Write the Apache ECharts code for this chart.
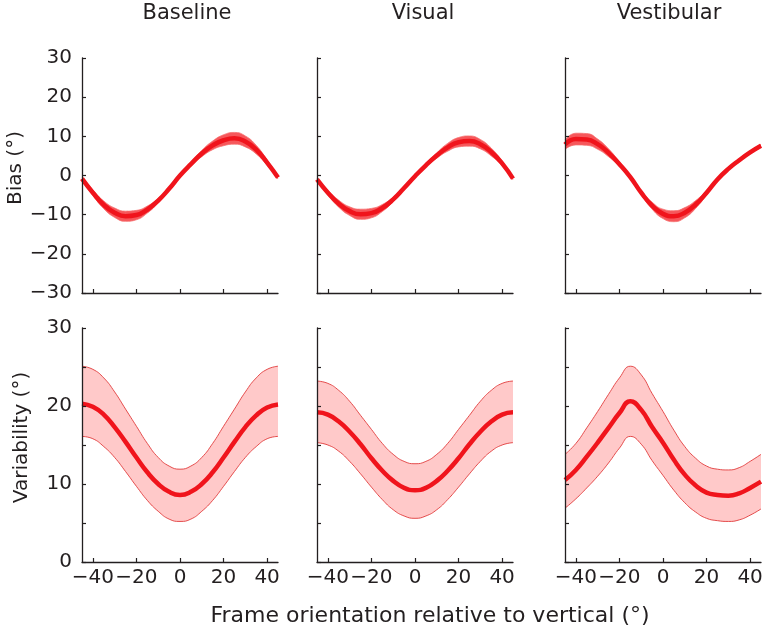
<!DOCTYPE html>
<html>
<head>
<meta charset="utf-8">
<script src="https://cdn.jsdelivr.net/npm/echarts@6/dist/echarts.min.js"></script>
<style>
  html, body { margin: 0; padding: 0; background: #ffffff; }
  #chart { width: 766px; height: 629px; }
</style>
</head>
<body>
<div id="chart"></div>
<script>
// ---- data ----
const panelTitles = ['Baseline', 'Visual', 'Vestibular'];
const xs = [-45, -40, -35, -30, -25, -20, -15, -10, -5, 0, 5, 10, 15, 20, 25, 30, 35, 40, 45];
const xTicks = [-40, -20, 0, 20, 40];
const biasTicks = [-30, -20, -10, 0, 10, 20, 30];
const varTicks = [0, 5, 10, 15, 20, 25, 30];
const varLabels = [0, 10, 20, 30];

// Bias (top row)
const baselineBiasMean = [-0.8, -4.4, -7.5, -9.5, -10.4, -10.1, -8.7, -6.4, -3.4, 0.0, 2.9, 5.6, 7.7, 9.0, 9.5, 8.7, 6.6, 3.3, -0.5];
const baselineBiasHi   = [-0.4, -3.7, -6.5, -8.3, -9.1, -8.9, -7.8, -5.8, -3.0, 0.3, 3.4, 6.4, 8.8, 10.4, 11.0, 10.1, 7.7, 4.0, -0.1];
const baselineBiasLo   = [-1.2, -5.1, -8.5, -10.7, -11.7, -11.3, -9.6, -7.0, -3.8, -0.3, 2.4, 4.8, 6.6, 7.6, 8.0, 7.3, 5.5, 2.6, -0.9];

const visualBiasMean = [-1.0, -4.4, -7.2, -9.1, -9.9, -9.6, -8.3, -6.1, -3.2, -0.2, 2.6, 5.1, 7.2, 8.5, 8.8, 8.0, 6.0, 3.1, -0.8];
const visualBiasHi   = [-0.7, -3.8, -6.3, -8.0, -8.6, -8.4, -7.4, -5.5, -2.8, 0.1, 3.0, 5.8, 8.2, 9.7, 10.1, 9.2, 7.0, 3.7, -0.5];
const visualBiasLo   = [-1.3, -5.0, -8.1, -10.2, -11.2, -10.8, -9.2, -6.7, -3.6, -0.5, 2.2, 4.4, 6.2, 7.3, 7.5, 6.8, 5.0, 2.5, -1.1];

const vestibularBiasMean = [7.9, 9.3, 9.2, 8.0, 5.8, 2.9, -0.4, -4.4, -7.7, -9.8, -10.4, -9.5, -7.4, -4.4, -1.0, 1.7, 3.9, 5.9, 7.6];
const vestibularBiasHi   = [9.1, 10.8, 10.7, 9.3, 6.8, 3.5, -0.1, -3.9, -6.8, -8.6, -9.0, -8.2, -6.4, -3.8, -0.7, 2.0, 4.3, 6.3, 8.0];
const vestibularBiasLo   = [6.7, 7.8, 7.7, 6.7, 4.8, 2.3, -0.7, -4.9, -8.6, -11.0, -11.8, -10.8, -8.4, -5.0, -1.3, 1.4, 3.5, 5.5, 7.2];

// Variability (bottom row)
const baselineVarMean = [20.3, 19.9, 18.9, 17.3, 15.4, 13.4, 11.5, 10.0, 9.0, 8.6, 9.0, 10.0, 11.5, 13.4, 15.4, 17.3, 18.8, 19.8, 20.2];
const baselineVarHi   = [25.1, 24.7, 23.6, 21.8, 19.6, 17.4, 15.2, 13.4, 12.3, 11.9, 12.3, 13.4, 15.2, 17.4, 19.6, 21.8, 23.6, 24.7, 25.1];
const baselineVarLo   = [16.1, 15.8, 14.8, 13.4, 11.6, 9.7, 7.9, 6.5, 5.5, 5.2, 5.5, 6.5, 7.9, 9.7, 11.6, 13.4, 14.8, 15.8, 16.1];

const visualVarMean = [19.2, 18.9, 18.0, 16.7, 15.1, 13.3, 11.7, 10.4, 9.5, 9.2, 9.5, 10.4, 11.7, 13.3, 15.1, 16.7, 18.0, 18.9, 19.2];
const visualVarHi   = [23.2, 22.9, 22.0, 20.6, 18.8, 17.0, 15.2, 13.8, 12.9, 12.6, 12.9, 13.8, 15.2, 17.0, 18.8, 20.6, 22.0, 22.9, 23.2];
const visualVarLo   = [15.3, 15.0, 14.2, 12.9, 11.3, 9.6, 8.0, 6.7, 5.9, 5.6, 5.9, 6.7, 8.0, 9.6, 11.3, 12.9, 14.2, 15.0, 15.3];

const vestibularVarMean = [10.5, 11.8, 13.5, 15.3, 17.2, 19.1, 20.6, 19.5, 17.3, 15.3, 13.1, 11.2, 9.8, 8.9, 8.6, 8.5, 8.8, 9.5, 10.3];
const vestibularVarHi   = [13.8, 15.2, 17.2, 19.3, 21.5, 23.6, 25.1, 24.0, 21.6, 19.3, 16.9, 14.8, 13.3, 12.3, 11.9, 11.8, 12.1, 12.9, 13.8];
const vestibularVarLo   = [6.9, 8.1, 9.5, 11.0, 12.7, 14.6, 16.1, 15.1, 13.0, 11.1, 9.2, 7.6, 6.4, 5.6, 5.3, 5.2, 5.4, 6.0, 6.8];

// ---- build chart ----
const FONT = 'DejaVu Sans';
const INK = '#231f20';
const gridLefts = [82, 317, 565];
const gridWidth = 196;
const topRow = { top: 58, height: 235 };
const botRow = { top: 328, height: 234 };
const SMOOTH = 0.5;

const panels = [
  { row: 0, col: 0, mean: baselineBiasMean, hi: baselineBiasHi, lo: baselineBiasLo },
  { row: 0, col: 1, mean: visualBiasMean, hi: visualBiasHi, lo: visualBiasLo },
  { row: 0, col: 2, mean: vestibularBiasMean, hi: vestibularBiasHi, lo: vestibularBiasLo },
  { row: 1, col: 0, mean: baselineVarMean, hi: baselineVarHi, lo: baselineVarLo },
  { row: 1, col: 1, mean: visualVarMean, hi: visualVarHi, lo: visualVarLo },
  { row: 1, col: 2, mean: vestibularVarMean, hi: vestibularVarHi, lo: vestibularVarLo }
];

const minus = v => (v < 0 ? '\u2212' + (-v) : String(v));

const grid = [], xAxis = [], yAxis = [], series = [];
panels.forEach((p, i) => {
  const r = p.row === 0 ? topRow : botRow;
  grid.push({ left: gridLefts[p.col], width: gridWidth, top: r.top, height: r.height, outerBoundsMode: 'none', containLabel: false });
  xAxis.push({
    gridIndex: i, type: 'value', min: -45, max: 45, z: 10,
    axisLine: { show: true, onZero: false, lineStyle: { color: INK, width: 1.3 } },
    axisTick: { show: true, inside: true, length: 4, customValues: xTicks, lineStyle: { color: INK, width: 1.2 } },
    axisLabel: {
      show: p.row === 1, customValues: xTicks, margin: 6, hideOverlap: false,
      showMinLabel: true, showMaxLabel: true,
      fontFamily: FONT, fontSize: 20, color: INK, formatter: minus
    },
    splitLine: { show: false }
  });
  const isBias = p.row === 0;
  yAxis.push({
    gridIndex: i, type: 'value', z: 10,
    min: isBias ? -30 : 0, max: 30, interval: 10,
    name: p.col === 0 ? (isBias ? 'Bias (°)' : 'Variability (°)') : '',
    nameLocation: 'middle', nameGap: 50,
    nameTextStyle: { fontFamily: FONT, fontSize: 20, color: INK, padding: [0, 0, 0, 15] },
    axisLine: { show: true, onZero: false, lineStyle: { color: INK, width: 1.3 } },
    axisTick: { show: true, inside: true, length: 4, customValues: isBias ? biasTicks : varTicks, lineStyle: { color: INK, width: 1.2 } },
    axisLabel: {
      show: p.col === 0, customValues: isBias ? biasTicks : varLabels, margin: 10, hideOverlap: false,
      showMinLabel: true, showMaxLabel: true,
      fontFamily: FONT, fontSize: 20, color: INK, formatter: minus
    },
    splitLine: { show: false }
  });
  const fill = isBias ? 'rgba(242,22,28,0.72)' : 'rgba(255,40,40,0.25)';
  const edge = isBias ? 'rgba(245,110,110,0.75)' : 'rgba(225,60,60,0.9)';
  // upper envelope: filled down to the axis minimum
  series.push({
    type: 'line', xAxisIndex: i, yAxisIndex: i,
    data: xs.map((x, k) => [x, p.hi[k]]), smooth: SMOOTH, showSymbol: false, symbol: 'none',
    lineStyle: { color: edge, width: 1 }, areaStyle: { color: fill, opacity: 1, origin: 'start' }, silent: true, z: 2
  });
  // lower envelope: white mask below it, leaving only the band
  series.push({
    type: 'line', xAxisIndex: i, yAxisIndex: i,
    data: xs.map((x, k) => [x, p.lo[k]]), smooth: SMOOTH, showSymbol: false, symbol: 'none',
    lineStyle: { color: edge, width: 1 }, areaStyle: { color: '#ffffff', opacity: 1, origin: 'start' }, silent: true, z: 2
  });
  series.push({
    type: 'line', xAxisIndex: i, yAxisIndex: i,
    data: xs.map((x, k) => [x, p.mean[k]]), smooth: SMOOTH, showSymbol: false, symbol: 'none',
    lineStyle: { color: '#f0141c', width: 4.5 }, silent: true, z: 3
  });
});

const titleCenters = [187, 423, 669];
const graphic = panelTitles.map((t, i) => ({
  type: 'text', x: titleCenters[i], y: 14,
  style: { text: t, fontFamily: FONT, fontSize: 21, fill: INK, align: 'center', verticalAlign: 'middle' }
}));
graphic.push({
  type: 'text', x: 430, y: 616,
  style: { text: 'Frame orientation relative to vertical (°)', fontFamily: FONT, fontSize: 22, fill: INK, align: 'center', verticalAlign: 'middle' }
});

const chart = echarts.init(document.getElementById('chart'), null, { renderer: 'canvas' });
chart.setOption({
  backgroundColor: '#ffffff',
  animation: false,
  grid, xAxis, yAxis, series, graphic
});
</script>
</body>
</html>
